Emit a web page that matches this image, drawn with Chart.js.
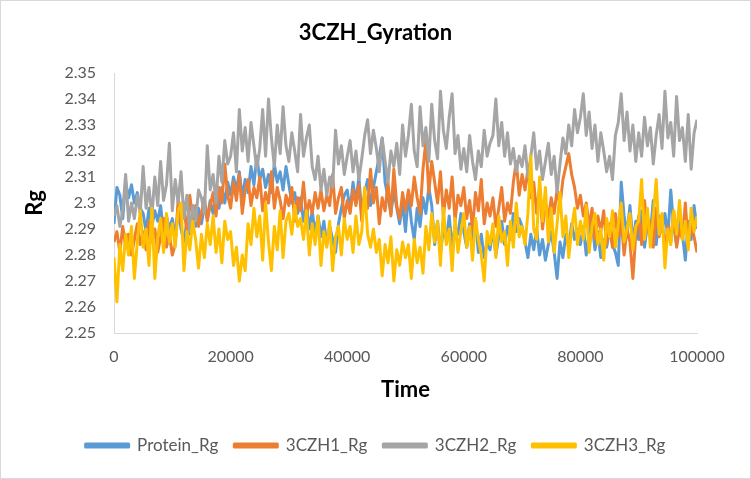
<!DOCTYPE html>
<html>
<head>
<meta charset="utf-8">
<script src="https://cdn.jsdelivr.net/npm/chart.js@4/dist/chart.umd.min.js"></script>
<style>
  html, body { margin: 0; padding: 0; background: #fff; }
  #wrap { width: 751px; height: 479px; position: relative; }
</style>
</head>
<body>
<div id="wrap"><canvas id="chart" width="751" height="479"></canvas></div>
<script>
// sample times (ns), one every 500
const timeStep = 500;
const times = Array.from({ length: 201 }, (_, i) => i * timeStep);
const xTicks = [0, 20000, 40000, 60000, 80000, 100000];

// Rg values
const proteinRg = [
  2.292, 2.306, 2.303, 2.294, 2.308, 2.302, 2.307, 2.300, 2.304, 2.298,
  2.296, 2.289, 2.298, 2.291, 2.297, 2.293, 2.299, 2.288, 2.295, 2.290,
  2.294, 2.287, 2.297, 2.290, 2.285, 2.293, 2.288, 2.296, 2.291, 2.298,
  2.292, 2.299, 2.294, 2.301, 2.296, 2.303, 2.298, 2.306, 2.300, 2.308,
  2.303, 2.310, 2.305, 2.312, 2.302, 2.309, 2.304, 2.314, 2.307, 2.318,
  2.309, 2.313, 2.306, 2.311, 2.304, 2.315, 2.308, 2.312, 2.305, 2.314,
  2.307, 2.300, 2.304, 2.296, 2.302, 2.293, 2.299, 2.290, 2.297, 2.288,
  2.295, 2.287, 2.293, 2.284, 2.291, 2.286, 2.281, 2.292, 2.298, 2.303,
  2.305, 2.297, 2.308, 2.300, 2.310, 2.296, 2.304, 2.309, 2.299, 2.306,
  2.312, 2.318, 2.325, 2.308, 2.302, 2.296, 2.305, 2.298, 2.292, 2.300,
  2.289, 2.304, 2.293, 2.286, 2.298, 2.291, 2.302, 2.296, 2.306, 2.299,
  2.284, 2.293, 2.281, 2.290, 2.286, 2.295, 2.283, 2.291, 2.288, 2.296,
  2.289, 2.283, 2.292, 2.286, 2.294, 2.281, 2.288, 2.279, 2.285, 2.282,
  2.290, 2.280, 2.287, 2.293, 2.284, 2.291, 2.286, 2.296, 2.289, 2.294,
  2.291, 2.285, 2.279, 2.288, 2.282, 2.290, 2.280, 2.286, 2.278, 2.284,
  2.289, 2.281, 2.271, 2.285, 2.279, 2.288, 2.283, 2.292, 2.286, 2.290,
  2.284, 2.291, 2.280, 2.288, 2.293, 2.282, 2.289, 2.279, 2.286, 2.283,
  2.290, 2.284, 2.281, 2.276, 2.308, 2.295, 2.288, 2.299, 2.285, 2.293,
  2.286, 2.297, 2.283, 2.292, 2.288, 2.301, 2.284, 2.295, 2.289, 2.296,
  2.287, 2.305, 2.291, 2.284, 2.296, 2.288, 2.278, 2.293, 2.286, 2.299, 2.290
];
const czh1Rg = [
  2.285, 2.289, 2.281, 2.291, 2.283, 2.288, 2.280, 2.286, 2.292, 2.284,
  2.289, 2.282, 2.293, 2.285, 2.290, 2.281, 2.287, 2.294, 2.283, 2.288,
  2.280, 2.284, 2.301, 2.292, 2.298, 2.289, 2.303, 2.294, 2.299, 2.291,
  2.296, 2.302, 2.293, 2.299, 2.304, 2.295, 2.306, 2.300, 2.315, 2.303,
  2.298, 2.308, 2.301, 2.311, 2.296, 2.305, 2.309, 2.299, 2.306, 2.302,
  2.310, 2.297, 2.304, 2.300, 2.312, 2.298, 2.306, 2.301, 2.294, 2.303,
  2.299, 2.306, 2.293, 2.302, 2.297, 2.308, 2.295, 2.301, 2.296, 2.304,
  2.298, 2.305, 2.297, 2.303, 2.299, 2.311, 2.296, 2.302, 2.306, 2.294,
  2.301, 2.296, 2.305, 2.299, 2.307, 2.293, 2.303, 2.298, 2.313, 2.300,
  2.306, 2.292, 2.302, 2.297, 2.308, 2.295, 2.313, 2.299, 2.294, 2.304,
  2.297, 2.305, 2.299, 2.310, 2.302, 2.296, 2.313, 2.324, 2.304, 2.316,
  2.308, 2.300, 2.312, 2.295, 2.305, 2.298, 2.310, 2.293, 2.303, 2.299,
  2.306, 2.294, 2.301, 2.290, 2.304, 2.297, 2.309, 2.292, 2.300, 2.295,
  2.302, 2.291, 2.298, 2.306, 2.293, 2.300, 2.296, 2.308, 2.316, 2.303,
  2.311, 2.305, 2.313, 2.302, 2.308, 2.296, 2.306, 2.290, 2.300, 2.294,
  2.302, 2.296, 2.305, 2.299, 2.309, 2.314, 2.319, 2.311, 2.306, 2.298,
  2.303, 2.295, 2.300, 2.291, 2.298, 2.286, 2.295, 2.289, 2.297, 2.284,
  2.292, 2.283, 2.296, 2.287, 2.293, 2.280, 2.290, 2.285, 2.271, 2.288,
  2.295, 2.284, 2.301, 2.289, 2.293, 2.283, 2.298, 2.287, 2.294, 2.282,
  2.291, 2.285, 2.297, 2.283, 2.290, 2.286, 2.300, 2.284, 2.292, 2.287, 2.281
];
const czh2Rg = [
  2.295, 2.299, 2.291, 2.297, 2.311, 2.293, 2.300, 2.294, 2.303, 2.296,
  2.314, 2.298, 2.306, 2.295, 2.310, 2.299, 2.316, 2.301, 2.307, 2.323,
  2.297, 2.309, 2.300, 2.312, 2.294, 2.303, 2.289, 2.299, 2.293, 2.305,
  2.302, 2.296, 2.322, 2.305, 2.311, 2.300, 2.318, 2.308, 2.324, 2.315,
  2.318, 2.327, 2.312, 2.336, 2.320, 2.329, 2.316, 2.331, 2.322, 2.313,
  2.321, 2.336, 2.318, 2.340, 2.325, 2.314, 2.330, 2.319, 2.337, 2.322,
  2.316, 2.327, 2.320, 2.312, 2.334, 2.318, 2.325, 2.330, 2.314, 2.309,
  2.318, 2.305, 2.313, 2.303, 2.310, 2.306, 2.328, 2.315, 2.322, 2.311,
  2.318, 2.324, 2.312, 2.320, 2.309, 2.317, 2.326, 2.332, 2.319, 2.328,
  2.321, 2.312, 2.325, 2.316, 2.308, 2.320, 2.314, 2.323, 2.311, 2.330,
  2.318, 2.326, 2.338, 2.320, 2.314, 2.337, 2.322, 2.329, 2.316, 2.338,
  2.324, 2.317, 2.343, 2.328, 2.321, 2.333, 2.342, 2.319, 2.326, 2.313,
  2.321, 2.312, 2.326, 2.316, 2.309, 2.320, 2.314, 2.328, 2.318, 2.323,
  2.326, 2.340, 2.322, 2.331, 2.318, 2.327, 2.315, 2.321, 2.312, 2.318,
  2.314, 2.322, 2.310, 2.318, 2.327, 2.313, 2.320, 2.309, 2.316, 2.323,
  2.311, 2.318, 2.304, 2.315, 2.325, 2.319, 2.330, 2.322, 2.336, 2.327,
  2.333, 2.342, 2.326, 2.335, 2.321, 2.330, 2.316, 2.327, 2.320, 2.312,
  2.318, 2.309, 2.326, 2.331, 2.342, 2.324, 2.335, 2.320, 2.330, 2.316,
  2.327, 2.318, 2.333, 2.322, 2.329, 2.315, 2.326, 2.334, 2.321, 2.343,
  2.325, 2.331, 2.318, 2.341, 2.324, 2.329, 2.316, 2.334, 2.313, 2.327, 2.332
];
const czh3Rg = [
  2.279, 2.262, 2.284, 2.274, 2.288, 2.280, 2.291, 2.271, 2.285, 2.297,
  2.283, 2.290, 2.276, 2.298, 2.271, 2.287, 2.294, 2.281, 2.296, 2.285,
  2.292, 2.283, 2.297, 2.300, 2.274, 2.289, 2.282, 2.293, 2.286, 2.275,
  2.288, 2.279, 2.292, 2.284, 2.295, 2.281, 2.290, 2.277, 2.293, 2.286,
  2.289, 2.276, 2.283, 2.270, 2.280, 2.274, 2.292, 2.284, 2.298, 2.287,
  2.295, 2.278, 2.300, 2.285, 2.274, 2.291, 2.282, 2.297, 2.279, 2.293,
  2.296, 2.288, 2.299, 2.291, 2.294, 2.286, 2.297, 2.280, 2.292, 2.284,
  2.295, 2.276, 2.289, 2.283, 2.293, 2.274, 2.287, 2.291, 2.280, 2.294,
  2.286, 2.291, 2.281, 2.295, 2.284, 2.289, 2.306, 2.288, 2.283, 2.290,
  2.281, 2.286, 2.272, 2.284, 2.277, 2.287, 2.270, 2.282, 2.276, 2.285,
  2.279, 2.284, 2.271, 2.286, 2.277, 2.283, 2.273, 2.291, 2.282, 2.296,
  2.285, 2.293, 2.276, 2.298, 2.284, 2.290, 2.274, 2.294, 2.281, 2.289,
  2.296, 2.283, 2.291, 2.278, 2.294, 2.286, 2.280, 2.270, 2.289, 2.284,
  2.292, 2.279, 2.295, 2.285, 2.289, 2.276, 2.293, 2.283, 2.300, 2.287,
  2.291, 2.284, 2.296, 2.318, 2.290, 2.286, 2.310, 2.293, 2.306, 2.285,
  2.298, 2.281, 2.292, 2.304, 2.287, 2.295, 2.279, 2.290, 2.298, 2.284,
  2.293, 2.286, 2.299, 2.281, 2.291, 2.296, 2.284, 2.290, 2.278, 2.294,
  2.287, 2.297, 2.283, 2.292, 2.300, 2.285, 2.290, 2.296, 2.282, 2.291,
  2.293, 2.309, 2.286, 2.298, 2.283, 2.295, 2.309, 2.288, 2.296, 2.275,
  2.290, 2.284, 2.297, 2.288, 2.301, 2.286, 2.293, 2.282, 2.298, 2.289, 2.295
];

const seriesNames = ['Protein_Rg', '3CZH1_Rg', '3CZH2_Rg', '3CZH3_Rg'];
const seriesColors = ['#5B9BD5', '#ED7D31', '#A5A5A5', '#FFC000'];
const seriesValues = [proteinRg, czh1Rg, czh2Rg, czh3Rg];

const font = 'Lato, "Open Sans", sans-serif';

// white background + thin frame like the exported picture
const frame = {
  id: 'frame',
  beforeDraw(c) {
    const ctx = c.ctx;
    ctx.save();
    ctx.fillStyle = '#fff';
    ctx.fillRect(0, 0, c.width, c.height);
    ctx.strokeStyle = '#d9d9d9';
    ctx.lineWidth = 1;
    ctx.strokeRect(0.5, 0.5, c.width - 1, c.height - 1);
    ctx.restore();
  }
};

const datasets = seriesNames.map((name, k) => ({
  label: name,
  data: seriesValues[k].map((v, i) => ({ x: times[i], y: v })),
  borderColor: seriesColors[k],
  backgroundColor: seriesColors[k],
  borderWidth: 3,
  borderJoinStyle: 'round',
  pointRadius: 0,
  tension: 0,
  order: 4 - k   // later series drawn on top, as in Excel
}));

new Chart(document.getElementById('chart'), {
  type: 'line',
  data: { datasets },
  plugins: [frame],
  options: {
    responsive: false,
    animation: false,
    events: [],
    layout: { padding: { left: 0, right: 0, top: 0, bottom: 15 } },
    plugins: {
      title: {
        display: true,
        text: '3CZH_Gyration',
        color: '#000',
        font: { family: font, size: 22, weight: 'bold' },
        padding: { top: 20, bottom: 26.6 }
      },
      legend: {
        position: 'bottom',
        labels: {
          color: '#595959',
          font: { family: font, size: 17 },
          boxWidth: 43,
          boxHeight: 3,
          padding: 16,
          sort: (a, b) => a.datasetIndex - b.datasetIndex
        }
      },
      tooltip: { enabled: false }
    },
    scales: {
      x: {
        type: 'linear',
        min: 0,
        max: 100000,
        afterBuildTicks: s => { s.ticks = xTicks.map(v => ({ value: v })); },
        afterFit: s => { s.height = 88; },
        ticks: {
          color: '#595959',
          font: { family: font, size: 16 },
          padding: 14,
          maxRotation: 0,
          callback: v => String(v)
        },
        grid: { display: true, drawOnChartArea: false, drawTicks: false },
        border: { color: '#d9d9d9', width: 1 },
        title: {
          display: true,
          text: 'Time',
          color: '#000',
          font: { family: font, size: 22, weight: 'bold' },
          padding: { top: 0, bottom: 18 }
        }
      },
      y: {
        min: 2.25,
        max: 2.35,
        afterFit: s => { s.width = 114; },
        ticks: {
          stepSize: 0.01,
          color: '#595959',
          font: { family: font, size: 16 },
          padding: 18,
          callback: v => String(+v.toFixed(2))
        },
        grid: { display: true, drawOnChartArea: false, drawTicks: false },
        border: { color: '#d9d9d9', width: 1 },
        title: {
          display: true,
          text: 'Rg',
          color: '#000',
          font: { family: font, size: 22, weight: 'bold' },
          padding: { top: 22, bottom: 22 }
        }
      },
      // empty right-hand gutter so the plot ends where the reference does
      gutter: {
        position: 'right',
        display: true,
        afterFit: s => { s.width = 54; },
        ticks: { display: false },
        grid: { display: false },
        border: { display: false }
      }
    }
  }
});
</script>
</body>
</html>
